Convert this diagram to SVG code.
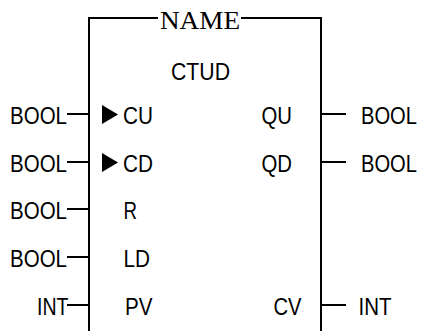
<svg xmlns="http://www.w3.org/2000/svg" width="425" height="331" viewBox="0 0 425 331">
<style>
.ln{stroke:#000;stroke-width:2;fill:none}
.t{font-family:"Liberation Sans",Arial,sans-serif;font-size:23px;fill:#000}
.n{font-family:"Liberation Serif","Times New Roman",serif;font-size:26px;fill:#000}
</style>
<defs>
<path id="tri" d="M0,-9.5 L16,0 L0,9.5 Z" fill="#000"/>
</defs>
<rect width="425" height="331" fill="#fff"/>
<g id="block">
<path class="ln" d="M89,331 V18 H158 M241,18 H321 V331"/>
<text class="n" x="160" y="29" textLength="80" lengthAdjust="spacingAndGlyphs">NAME</text>
<text class="t" x="171" y="80" textLength="59" lengthAdjust="spacingAndGlyphs">CTUD</text>
</g>
<g id="connectors">
<path class="ln" d="M67,114 H89 M67,162 H89 M67,209 H89 M67,257 H89 M67,305 H89 M321,114 H346 M321,162 H346 M321,305 H346"/>
</g>
<g id="pin-CU">
<text class="t" x="10" y="123.5" textLength="57" lengthAdjust="spacingAndGlyphs">BOOL</text>
<use href="#tri" x="102" y="114.5"/>
<text class="t" x="123" y="123.5" textLength="30" lengthAdjust="spacingAndGlyphs">CU</text>
</g>
<g id="pin-CD">
<text class="t" x="10" y="171.5" textLength="57" lengthAdjust="spacingAndGlyphs">BOOL</text>
<use href="#tri" x="102" y="162.5"/>
<text class="t" x="123" y="171.5" textLength="30" lengthAdjust="spacingAndGlyphs">CD</text>
</g>
<g id="pin-R">
<text class="t" x="10" y="218.5" textLength="57" lengthAdjust="spacingAndGlyphs">BOOL</text>
<text class="t" x="123.5" y="218.5" textLength="13.5" lengthAdjust="spacingAndGlyphs">R</text>
</g>
<g id="pin-LD">
<text class="t" x="10" y="266.5" textLength="57" lengthAdjust="spacingAndGlyphs">BOOL</text>
<text class="t" x="123.5" y="266.5" textLength="26.5" lengthAdjust="spacingAndGlyphs">LD</text>
</g>
<g id="pin-PV">
<text class="t" x="37" y="314.5" textLength="31.5" lengthAdjust="spacingAndGlyphs">INT</text>
<text class="t" x="125" y="314.5" textLength="27.5" lengthAdjust="spacingAndGlyphs">PV</text>
</g>
<g id="pin-QU">
<text class="t" x="261.5" y="123.5" textLength="30.5" lengthAdjust="spacingAndGlyphs">QU</text>
<text class="t" x="361" y="123.5" textLength="56" lengthAdjust="spacingAndGlyphs">BOOL</text>
</g>
<g id="pin-QD">
<text class="t" x="261.5" y="171.5" textLength="30.5" lengthAdjust="spacingAndGlyphs">QD</text>
<text class="t" x="361" y="171.5" textLength="56" lengthAdjust="spacingAndGlyphs">BOOL</text>
</g>
<g id="pin-CV">
<text class="t" x="273.5" y="314.5" textLength="28" lengthAdjust="spacingAndGlyphs">CV</text>
<text class="t" x="358.5" y="314.5" textLength="33" lengthAdjust="spacingAndGlyphs">INT</text>
</g>
</svg>
